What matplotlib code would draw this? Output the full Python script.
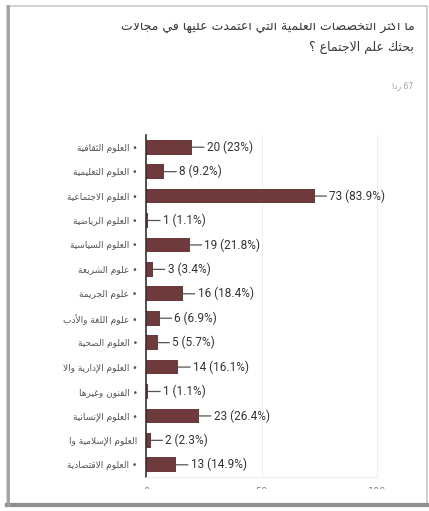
import matplotlib
matplotlib.use("Agg")
import matplotlib.pyplot as plt
from matplotlib.patches import Rectangle
from matplotlib.lines import Line2D
from matplotlib.transforms import Bbox, TransformedBbox

# --- Data ---
categories = [
    "العلوم الثقافية", "العلوم التعليمية", "العلوم الاجتماعية", "العلوم الرياضية",
    "العلوم السياسية", "علوم الشريعة", "علوم الجريمة", "علوم اللغة والأدب",
    "العلوم الصحية", "العلوم الإدارية والا", "الفنون وغيرها", "العلوم الإنسانية",
    "العلوم الإسلامية وا", "العلوم الاقتصادية",
]
truncated = [True] * 12 + [False, True]
counts = [20, 8, 73, 1, 19, 3, 16, 6, 5, 14, 1, 23, 2, 13]
percents = ["23%", "9.2%", "83.9%", "1.1%", "21.8%", "3.4%", "18.4%", "6.9%",
            "5.7%", "16.1%", "1.1%", "26.4%", "2.3%", "14.9%"]
x_ticks = [0, 50, 100]
title_line1 = "ما أكثر التخصصات العلمية التي اعتمدت عليها في مجالات"
title_line2 = "بحثك علم الاجتماع ؟"
n_responses = "67"
responses_word = "ردا"

# --- minimal Arabic shaping (no reshaper library available) ---
FORMS = {
    'ء': (0xFE80, 1), 'آ': (0xFE81, 2), 'أ': (0xFE83, 2), 'ؤ': (0xFE85, 2),
    'إ': (0xFE87, 2), 'ئ': (0xFE89, 4), 'ا': (0xFE8D, 2), 'ب': (0xFE8F, 4),
    'ة': (0xFE93, 2), 'ت': (0xFE95, 4), 'ث': (0xFE99, 4), 'ج': (0xFE9D, 4),
    'ح': (0xFEA1, 4), 'خ': (0xFEA5, 4), 'د': (0xFEA9, 2), 'ذ': (0xFEAB, 2),
    'ر': (0xFEAD, 2), 'ز': (0xFEAF, 2), 'س': (0xFEB1, 4), 'ش': (0xFEB5, 4),
    'ص': (0xFEB9, 4), 'ض': (0xFEBD, 4), 'ط': (0xFEC1, 4), 'ظ': (0xFEC5, 4),
    'ع': (0xFEC9, 4), 'غ': (0xFECD, 4), 'ف': (0xFED1, 4), 'ق': (0xFED5, 4),
    'ك': (0xFED9, 4), 'ل': (0xFEDD, 4), 'م': (0xFEE1, 4), 'ن': (0xFEE5, 4),
    'ه': (0xFEE9, 4), 'و': (0xFEED, 2), 'ى': (0xFEEF, 2), 'ي': (0xFEF1, 4),
}
LAM_ALEF = {'آ': 0xFEF5, 'أ': 0xFEF7, 'إ': 0xFEF9, 'ا': 0xFEFB}


def shape(s):
    chars = []
    i = 0
    while i < len(s):
        if s[i] == 'ل' and i + 1 < len(s) and s[i + 1] in LAM_ALEF:
            chars.append(('LA', s[i + 1]))
            i += 2
        else:
            chars.append(s[i])
            i += 1
    out = []
    for k, c in enumerate(chars):
        prev = chars[k - 1] if k > 0 else None
        nxt = chars[k + 1] if k + 1 < len(chars) else None
        prev_join = (prev is not None and not isinstance(prev, tuple)
                     and FORMS.get(prev, (0, 0))[1] == 4)
        if isinstance(c, tuple):
            out.append(chr(LAM_ALEF[c[1]] + (1 if prev_join else 0)))
            continue
        if c not in FORMS:
            out.append(c)
            continue
        base, n = FORMS[c]
        next_join = (n == 4 and nxt is not None and
                     (isinstance(nxt, tuple) or FORMS.get(nxt, (0, 0))[1] >= 2))
        if n == 1:
            out.append(chr(base))
        elif prev_join and next_join:
            out.append(chr(base + 3))
        elif prev_join:
            out.append(chr(base + 1))
        elif next_join:
            out.append(chr(base + 2))
        else:
            out.append(chr(base))
    # visual order: right-to-left
    return ''.join(reversed(out))


W, H = 429, 511
fig = plt.figure(figsize=(W / 100, H / 100), dpi=100)
fig.patch.set_facecolor("white")

# --- screenshot frame ---
fig.patches.append(Rectangle((7 / W, 1 - 505 / H), 420 / W, 499 / H,
                             transform=fig.transFigure, fill=False,
                             edgecolor="#c8c8c8", lw=1.2))
fig.lines.append(Line2D([7 / W, 1], [1 - 505 / H] * 2, transform=fig.transFigure,
                        color="#8f8f8f", lw=3))
fig.lines.append(Line2D([8 / W] * 2, [1 - 505 / H, 1 - 6 / H], transform=fig.transFigure,
                        color="#a0a0a0", lw=2))

# --- title (top line cut off by the screenshot) ---
t1 = fig.text(415 / W, 1 - 25 / H, shape(title_line1), ha="right", va="center",
              fontsize=9, color="#3a3a3a", family="DejaVu Sans")
t1.set_clip_box(TransformedBbox(Bbox([[0, 0], [1, 1 - 23 / H]]), fig.transFigure))
t1.set_clip_on(True)
fig.text(414 / W, 1 - 47 / H, shape(title_line2), ha="right", va="center",
         fontsize=9, color="#3a3a3a", family="DejaVu Sans")
fig.text(413 / W, 1 - 86 / H, shape(responses_word) + " " + n_responses,
         ha="right", va="center", fontsize=5.5, color="#a0a0a0", family="DejaVu Sans")

# --- chart ---
ax = fig.add_axes([146 / W, 1 - 477 / H, (377 - 146) / W, (477 - 135) / H])
y = list(range(len(categories)))
ax.barh(y, counts, height=0.6, color="#6e3a3b")
ax.set_ylim(len(categories) - 0.5, -0.5)
ax.set_xlim(0, 100)

for yi, c, p in zip(y, counts, percents):
    ax.annotate(f"{c} ({p})", xy=(c, yi), xytext=(10.5, 0), textcoords="offset points",
                ha="left", va="center", fontsize=8.5, color="#333333", family="Roboto",
                arrowprops=dict(arrowstyle="-", color="#555555", lw=0.9,
                                shrinkA=0, shrinkB=0))

labels = [shape(t) + (" •" if tr else "") for t, tr in zip(categories, truncated)]
ax.set_yticks(y)
ax.set_yticklabels(labels, fontsize=6.5, color="#555555", family="DejaVu Sans")
ax.tick_params(axis="y", length=0, pad=6)

ax.set_xticks(x_ticks)
ax.set_xticklabels([str(v) for v in x_ticks], fontsize=7, color="#888888")
ax.tick_params(axis="x", length=0, pad=7)
clip = TransformedBbox(Bbox([[0, 1 - 489 / H], [1, 1]]), fig.transFigure)
for lbl in ax.get_xticklabels():
    lbl.set_clip_box(clip)
    lbl.set_clip_on(True)

ax.grid(axis="x", color="#f0f0f0", lw=0.8)
ax.set_axisbelow(True)
ax.spines["top"].set_visible(False)
ax.spines["right"].set_color("#eeeeee")
ax.spines["bottom"].set_color("#eeeeee")
ax.spines["left"].set_color("#333333")
ax.spines["left"].set_linewidth(1.2)

fig.savefig("out.png", dpi=100, facecolor="white")
